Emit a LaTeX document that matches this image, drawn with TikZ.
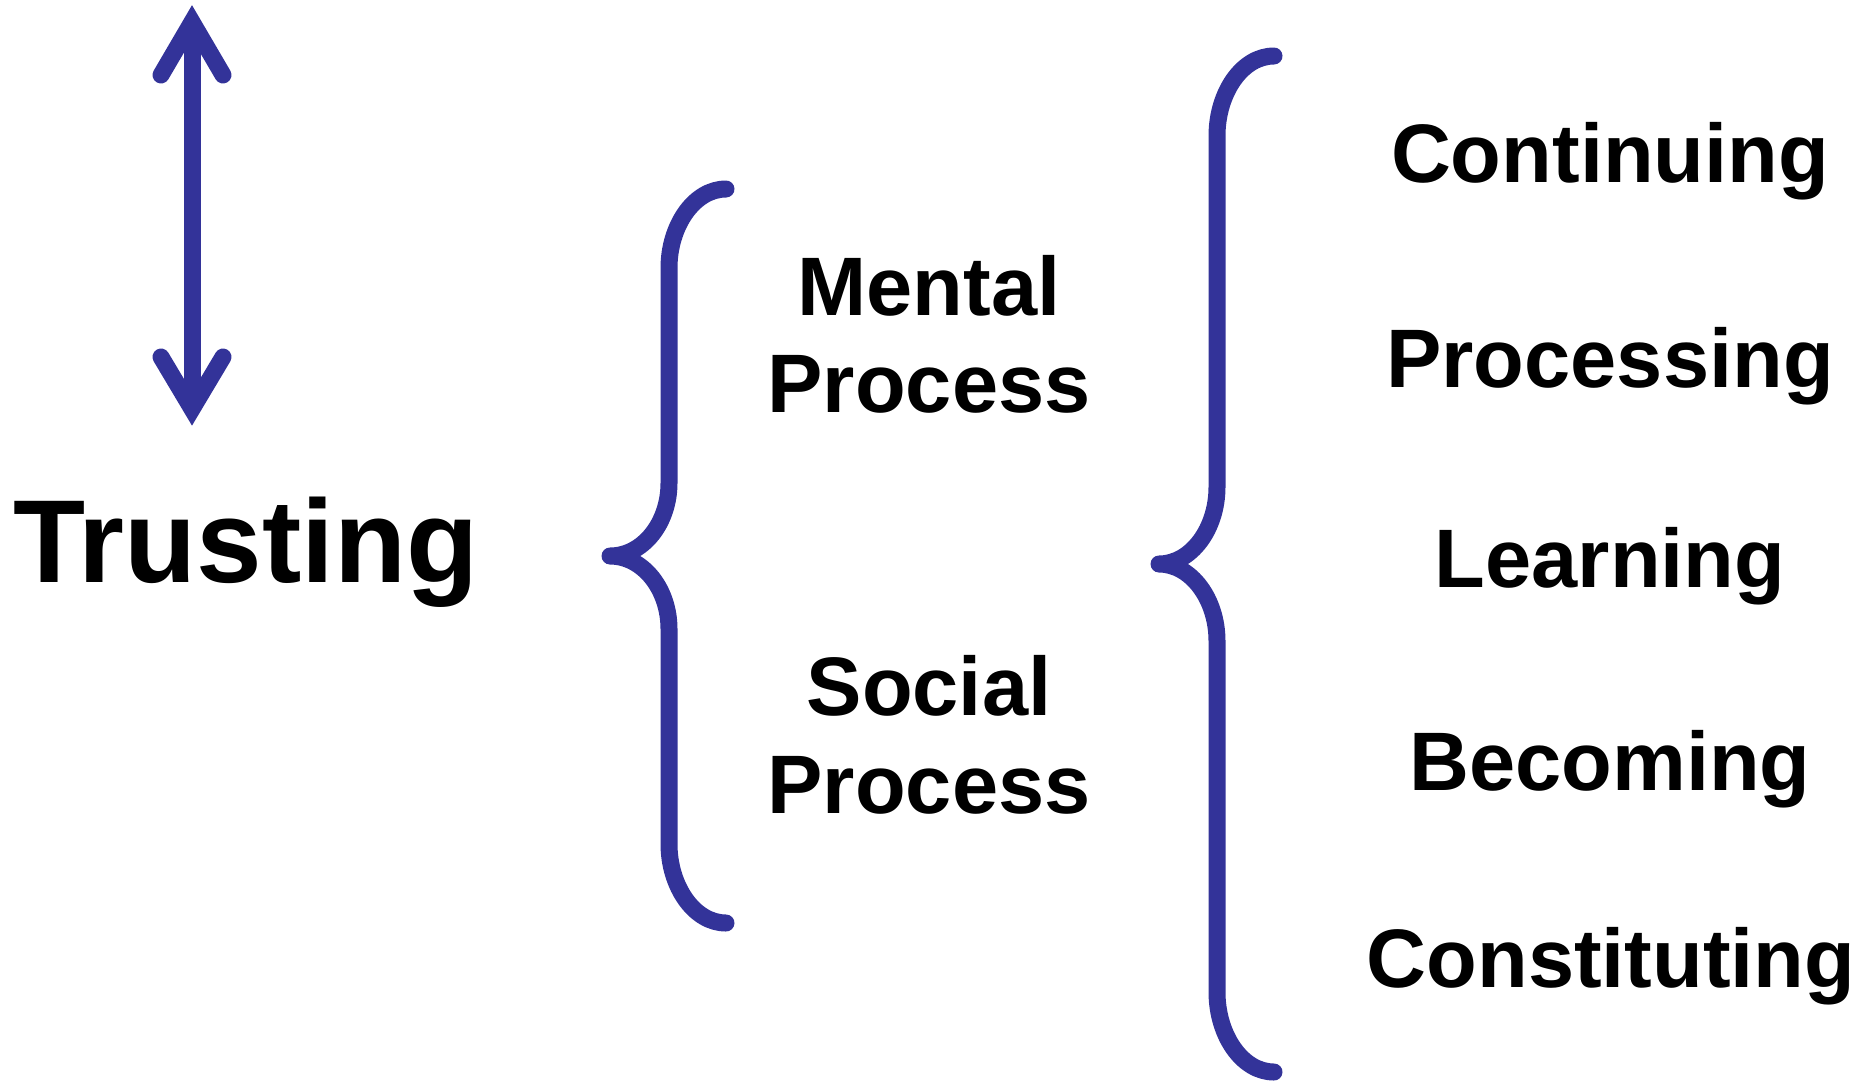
\documentclass[tikz,border=0pt]{standalone}
\usepackage{fontspec}
\setmainfont{Liberation Sans}
\usetikzlibrary{positioning}
\definecolor{bracecol}{RGB}{51,51,153}
\tikzset{
	curly/.style={draw=bracecol, line width=8.5pt, line cap=round, line join=round},
	shaft/.style={draw=bracecol, line width=8.5pt},
	word/.style={inner sep=0pt, anchor=base, font=\fontsize{41.5}{48}\selectfont\bfseries},
	bigword/.style={word, font=\fontsize{59}{64}\selectfont\bfseries}
}
\begin{document}
\begin{tikzpicture}[x=0.5pt,y=-0.5pt]
	\useasboundingbox (0,0) rectangle (1863,1082);
	% double arrow
	\coordinate (up) at (192,22);
	\coordinate (down) at (192,409);
	\draw[shaft] (up) -- (down);
	\draw[shaft, line cap=round, line join=miter] (161,75) -- (up) -- (223,75);
	\draw[shaft, line cap=round, line join=miter] (161,357) -- (down) -- (223,357);
	\node[bigword] (trusting) at (246,582) {Trusting};
	% first brace
	\draw[curly] (726,189) .. controls (694,189) and (669,226) .. (669,268) -- (669,483)
		.. controls (669,523) and (643,556) .. (610,556)
		.. controls (643,556) and (669,589) .. (669,629) -- (669,844)
		.. controls (669,886) and (694,923) .. (726,923);
	\node[word] (mental) at (929,315) {Mental};
	\node[word] (mentalproc) at (929,412) {Process};
	\node[word] (social) at (929,715) {Social};
	\node[word] (socialproc) at (929,813) {Process};
	% second brace
	\draw[curly] (1274,56) .. controls (1242,56) and (1217,93) .. (1217,136) -- (1217,487)
		.. controls (1217,529) and (1191,564) .. (1159,564)
		.. controls (1191,564) and (1217,599) .. (1217,641) -- (1217,992)
		.. controls (1217,1035) and (1242,1072) .. (1274,1072);
	\node[word] (continuing) at (1610,182) {Continuing};
	\node[word] (processing) at (1610,387) {Processing};
	\node[word] (learning) at (1610,587) {Learning};
	\node[word] (becoming) at (1610,790) {Becoming};
	\node[word] (constituting) at (1611,987) {Constituting};
\end{tikzpicture}
\end{document}
